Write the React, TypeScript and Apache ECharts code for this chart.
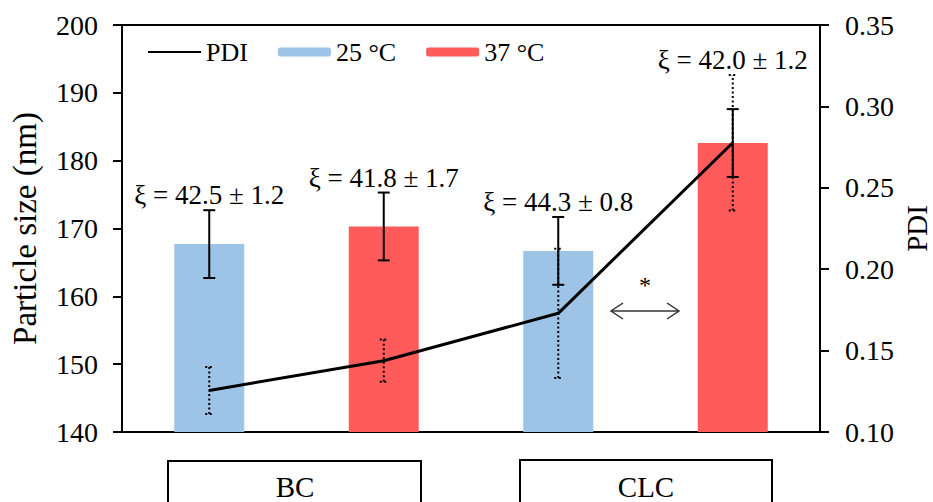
import React, { useEffect, useRef } from "react";
import * as echarts from "echarts";

const categories = ["BC 25 °C", "BC 37 °C", "CLC 25 °C", "CLC 37 °C"];
const groupLabels = ["BC", "CLC"];
const sizeMean = [167.7, 170.3, 166.7, 182.6];
const sizeErr = [5.0, 5.0, 5.0, 5.0];
const pdiMean = [0.1255, 0.1438, 0.1729, 0.2777];
const pdiErr = [0.0145, 0.013, 0.0397, 0.0416];
const zetaLabels = ["ξ = 42.5 ± 1.2", "ξ = 41.8 ± 1.7", "ξ = 44.3 ± 0.8", "ξ = 42.0 ± 1.2"];
const leftTicks = { min: 140, max: 200, interval: 10 };
const rightTicks = { min: 0.1, max: 0.35, interval: 0.05 };

const FONT = "'Liberation Serif', 'Times New Roman', serif";

export default function App() {
  const ref = useRef<HTMLDivElement>(null);
  useEffect(() => {
    if (!ref.current) return;
    const chart = echarts.init(ref.current, undefined, { renderer: "svg" });
    const blue = "#9DC3E6";
    const red = "#FF5B5B";
    const toLeft = (p: number) =>
      leftTicks.min + ((p - rightTicks.min) / (rightTicks.max - rightTicks.min)) * (leftTicks.max - leftTicks.min);

    const option: any = {
      animation: false,
      backgroundColor: "#fff",
      textStyle: { fontFamily: FONT, color: "#000" },
      grid: {
        left: 122, right: 113, top: 25, bottom: 70,
        outerBoundsMode: "none",
        containLabel: false,
        show: true, borderColor: "#000", borderWidth: 2,
      },
      legend: {
        left: 142, top: 34,
        itemWidth: 53, itemHeight: 9, itemGap: 30,
        data: [
          { name: "PDI", itemStyle: { opacity: 0 } },
          "25 °C",
          "37 °C",
        ],
        textStyle: { fontFamily: FONT, fontSize: 26, color: "#000" },
      },
      xAxis: {
        type: "category",
        data: categories,
        axisLabel: { show: false },
        axisTick: { show: false },
        axisLine: { show: true, lineStyle: { color: "#000", width: 2 } },
      },
      yAxis: [
        {
          type: "value",
          min: leftTicks.min, max: leftTicks.max, interval: leftTicks.interval,
          name: "Particle size (nm)",
          nameLocation: "middle",
          nameGap: 81,
          nameTextStyle: { fontFamily: FONT, fontSize: 33, color: "#000" },
          axisLine: { show: true, lineStyle: { color: "#000", width: 2 } },
          axisTick: { show: true, length: 9, lineStyle: { color: "#000", width: 2 } },
          axisLabel: { margin: 24, fontFamily: FONT, fontSize: 28, color: "#000" },
          splitLine: { show: false },
        },
        {
          type: "value",
          position: "right",
          min: rightTicks.min, max: rightTicks.max, interval: rightTicks.interval,
          name: "PDI",
          nameLocation: "middle",
          nameGap: 82,
          nameMoveOverlap: false,
          nameRotate: 90,
          nameTextStyle: { fontFamily: FONT, fontSize: 29, color: "#000" },
          axisLine: { show: true, lineStyle: { color: "#000", width: 2 } },
          axisTick: { show: true, length: 9, lineStyle: { color: "#000", width: 2 } },
          axisLabel: {
            margin: 25, fontFamily: FONT, fontSize: 28, color: "#000",
            formatter: (v: number) => v.toFixed(2),
          },
          splitLine: { show: false },
        },
      ],
      series: [
        {
          name: "25 °C",
          type: "bar",
          barWidth: 70,
          barGap: "-100%",
          itemStyle: { color: blue },
          data: sizeMean.map((v, i) => (i % 2 === 0 ? v : "-")),
          z: 2,
        },
        {
          name: "37 °C",
          type: "bar",
          barWidth: 70,
          barGap: "-100%",
          itemStyle: { color: red },
          data: sizeMean.map((v, i) => (i % 2 === 1 ? v : "-")),
          z: 2,
        },
        {
          name: "pdiErr",
          type: "custom",
          yAxisIndex: 1,
          z: 3,
          silent: true,
          data: pdiMean.map((v, i) => [i, v - pdiErr[i], v + pdiErr[i]]),
          renderItem: (params: any, api: any) => {
            const i = api.value(0);
            const lo = api.coord([i, api.value(1)]);
            const hi = api.coord([i, api.value(2)]);
            const cap = 4;
            const style = { stroke: "#000", lineWidth: 2, lineDash: [2, 2.5] };
            return {
              type: "group",
              children: [
                { type: "line", shape: { x1: lo[0], y1: lo[1], x2: hi[0], y2: hi[1] }, style },
                { type: "line", shape: { x1: lo[0] - cap, y1: lo[1], x2: lo[0] + cap, y2: lo[1] }, style },
                { type: "line", shape: { x1: hi[0] - cap, y1: hi[1], x2: hi[0] + cap, y2: hi[1] }, style },
              ],
            };
          },
        },
        {
          name: "PDI",
          type: "line",
          yAxisIndex: 1,
          symbol: "none",
          z: 4,
          lineStyle: { color: "#000", width: 3 },
          itemStyle: { color: "#000" },
          data: pdiMean,
        },
        {
          name: "sizeErr",
          type: "custom",
          yAxisIndex: 0,
          z: 5,
          silent: true,
          clip: false,
          data: sizeMean.map((v, i) => [i, v - sizeErr[i], v + sizeErr[i], toLeft(pdiMean[i] + pdiErr[i])]),
          renderItem: (params: any, api: any) => {
            const i = api.value(0);
            const lo = api.coord([i, api.value(1)]);
            const hi = api.coord([i, api.value(2)]);
            const pTop = api.coord([i, api.value(3)]);
            const cap = 6;
            const style = { stroke: "#000", lineWidth: 2 };
            const topY = Math.min(hi[1], pTop[1]);
            return {
              type: "group",
              children: [
                { type: "line", shape: { x1: lo[0], y1: lo[1], x2: hi[0], y2: hi[1] }, style },
                { type: "line", shape: { x1: lo[0] - cap, y1: lo[1], x2: lo[0] + cap, y2: lo[1] }, style },
                { type: "line", shape: { x1: hi[0] - cap, y1: hi[1], x2: hi[0] + cap, y2: hi[1] }, style },
                {
                  type: "text",
                  style: {
                    text: zetaLabels[params.dataIndex],
                    x: hi[0], y: topY - 15,
                    align: "center", verticalAlign: "middle",
                    fontFamily: FONT, fontSize: 27, fill: "#000",
                  },
                },
              ],
            };
          },
        },
      ],
      graphic: [
        // significance arrow
        { type: "line", shape: { x1: 611, y1: 311, x2: 679, y2: 311 }, style: { stroke: "#333", lineWidth: 1.5 } },
        { type: "polyline", shape: { points: [[623, 303], [611, 311], [623, 319]] }, style: { stroke: "#333", lineWidth: 1.5, fill: null } },
        { type: "polyline", shape: { points: [[667, 303], [679, 311], [667, 319]] }, style: { stroke: "#333", lineWidth: 1.5, fill: null } },
        { type: "text", x: 645, y: 285, style: { text: "*", align: "center", verticalAlign: "middle", fontFamily: FONT, fontSize: 24, fill: "#000" } },
        // group boxes
        { type: "rect", shape: { x: 168, y: 461, width: 253, height: 60 }, style: { stroke: "#000", lineWidth: 2, fill: "#fff" } },
        { type: "text", x: 295, y: 487, style: { text: groupLabels[0], align: "center", verticalAlign: "middle", fontFamily: FONT, fontSize: 29, fill: "#000" } },
        { type: "rect", shape: { x: 520, y: 460, width: 252, height: 60 }, style: { stroke: "#000", lineWidth: 2, fill: "#fff" } },
        { type: "text", x: 646, y: 487, style: { text: groupLabels[1], align: "center", verticalAlign: "middle", fontFamily: FONT, fontSize: 29, fill: "#000" } },
      ],
    };
    chart.setOption(option);
    return () => chart.dispose();
  }, []);
  return (
    <div
      ref={ref}
      style={{ position: "fixed", left: 0, top: 0, width: 933, height: 502, background: "#fff" }}
    />
  );
}
